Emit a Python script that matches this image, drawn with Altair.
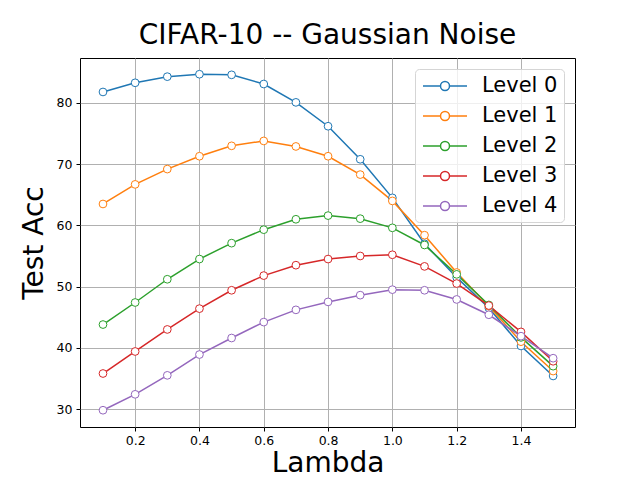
import altair as alt
import pandas as pd

lambdas = [0.1, 0.2, 0.3, 0.4, 0.5, 0.6, 0.7, 0.8, 0.9, 1.0, 1.1, 1.2, 1.3, 1.4, 1.5]
level0 = [81.8, 83.3, 84.3, 84.7, 84.6, 83.1, 80.1, 76.2, 70.8, 64.5, 57.0, 51.5, 46.5, 40.3, 35.4]
level1 = [63.5, 66.7, 69.2, 71.3, 73.0, 73.8, 72.9, 71.3, 68.3, 64.0, 58.4, 52.3, 46.8, 41.0, 36.2]
level2 = [43.8, 47.4, 51.2, 54.5, 57.1, 59.3, 61.0, 61.6, 61.1, 59.6, 56.8, 52.0, 47.0, 41.7, 37.0]
level3 = [35.8, 39.4, 43.0, 46.4, 49.4, 51.8, 53.5, 54.5, 55.0, 55.2, 53.3, 50.5, 46.9, 42.6, 37.8]
level4 = [29.8, 32.4, 35.5, 38.9, 41.6, 44.2, 46.2, 47.5, 48.6, 49.5, 49.4, 47.9, 45.4, 41.9, 38.3]
series_names = ["Level 0", "Level 1", "Level 2", "Level 3", "Level 4"]
colors = ["#1f77b4", "#ff7f0e", "#2ca02c", "#d62728", "#9467bd"]
x_ticks = [0.2, 0.4, 0.6, 0.8, 1.0, 1.2, 1.4]
y_ticks = [30, 40, 50, 60, 70, 80]

rows = []
for name, vals in zip(series_names, [level0, level1, level2, level3, level4]):
    for lam, v in zip(lambdas, vals):
        rows.append({"Lambda": lam, "Acc": v, "Series": name})
df = pd.DataFrame(rows)

FONT = "DejaVu Sans"

x = alt.X("Lambda:Q", scale=alt.Scale(domain=[0.0285, 1.568], nice=False, zero=False),
          axis=alt.Axis(values=x_ticks, format=".1f", title="Lambda", labelPadding=3))
y = alt.Y("Acc:Q", scale=alt.Scale(domain=[27.06, 87.35], nice=False, zero=False),
          axis=alt.Axis(values=y_ticks, format="d", title="Test Acc", labelPadding=4))
color = alt.Color("Series:N", scale=alt.Scale(domain=series_names, range=colors),
                  legend=alt.Legend(
                      title=None, orient="none", legendX=335, legendY=11,
                      symbolType="M-0.9,0L0.85,0M1.75,0L3.5,0M0.85,0A0.45,0.45 0 1,0 1.75,0A0.45,0.45 0 1,0 0.85,0",
                      symbolSize=400, symbolStrokeWidth=1.5, symbolFillColor="white",
                      labelFontSize=21, labelFont=FONT, labelColor="black",
                      rowPadding=9, padding=6,
                      fillColor="rgba(255,255,255,0.8)", strokeColor="#d5d5d5", cornerRadius=4,
                      labelOffset=39))

lines = alt.Chart(df).mark_line(strokeWidth=1.5).encode(x=x, y=y, color=color)
points = alt.Chart(df).mark_point(filled=True, fill="white", size=60, strokeWidth=1, opacity=1).encode(
    x=x, y=y, stroke=alt.Stroke("Series:N", scale=alt.Scale(domain=series_names, range=colors), legend=None))

chart = alt.layer(lines, points).properties(
    width=495, height=369,
    title=alt.TitleParams("CIFAR-10 -- Gaussian Noise", fontSize=28, font=FONT, fontWeight="normal",
                          color="black", offset=8),
    autosize=alt.AutoSizeParams(type="none"),
    padding={"left": 72, "top": 50, "right": 57, "bottom": 53},
).configure_view(stroke="black", strokeWidth=1).configure_axis(
    grid=True, gridColor="#b0b0b0", gridWidth=1, domain=False,
    tickColor="black", tickSize=4, labelFont=FONT, labelFontSize=12.5, labelColor="black",
    titleFont=FONT, titleFontSize=28, titleFontWeight="normal", titleColor="black",
).configure_axisX(titlePadding=3).configure_axisY(titlePadding=8)

chart.save("out.html", embed_options={"renderer": "svg", "actions": False})
